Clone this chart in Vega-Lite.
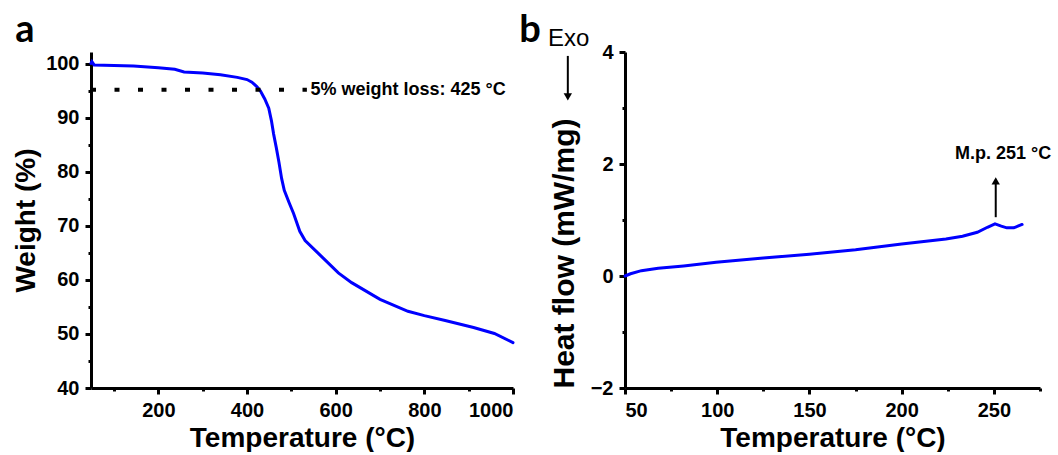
{
  "$schema": "https://vega.github.io/schema/vega-lite/v6.json",
  "background": "white",
  "padding": {"left": 12, "top": 11, "right": 0, "bottom": 0},
  "bounds": "flush",
  "spacing": 112,
  "config": {
    "view": {"stroke": null},
    "font": "Liberation Sans",
    "axis": {
      "grid": false,
      "domainColor": "black",
      "domainWidth": 3,
      "tickColor": "black",
      "tickWidth": 3,
      "tickSize": 6,
      "labelFont": "Liberation Sans",
      "labelFontWeight": "bold",
      "labelFontSize": 20,
      "labelColor": "black",
      "labelPadding": 6,
      "titleFont": "Liberation Sans",
      "titleFontWeight": "bold",
      "titleFontSize": 28,
      "titleColor": "black",
      "format": "d"
    }
  },
  "datasets": {
    "tga": [
      {"T": 48, "W": 100.1}, {"T": 50, "W": 100.4}, {"T": 55, "W": 99.8}, {"T": 100, "W": 99.7},
      {"T": 144, "W": 99.6}, {"T": 200, "W": 99.3}, {"T": 237, "W": 99.0}, {"T": 258, "W": 98.5},
      {"T": 300, "W": 98.3}, {"T": 340, "W": 98.0}, {"T": 378, "W": 97.5}, {"T": 400, "W": 97.1},
      {"T": 411, "W": 96.6}, {"T": 422, "W": 95.8}, {"T": 430, "W": 95.0}, {"T": 440, "W": 93.5},
      {"T": 449, "W": 91.8}, {"T": 455, "W": 89.5}, {"T": 460, "W": 87.0}, {"T": 466, "W": 84.5},
      {"T": 472, "W": 81.8}, {"T": 478, "W": 78.8}, {"T": 484, "W": 76.6}, {"T": 495, "W": 74.3},
      {"T": 505, "W": 72.3}, {"T": 519, "W": 69.0}, {"T": 531, "W": 67.3}, {"T": 566, "W": 64.5},
      {"T": 606, "W": 61.3}, {"T": 636, "W": 59.5}, {"T": 700, "W": 56.4}, {"T": 763, "W": 54.2},
      {"T": 800, "W": 53.4}, {"T": 847, "W": 52.5}, {"T": 911, "W": 51.2}, {"T": 958, "W": 50.1},
      {"T": 1000, "W": 48.4}
    ],
    "tgaLine": [{"T": 48, "W": 95.2}, {"T": 535, "W": 95.2}],
    "dsc": [
      {"T": 50, "HF": 0.0}, {"T": 53, "HF": 0.04}, {"T": 58.9, "HF": 0.095}, {"T": 68, "HF": 0.137},
      {"T": 81.8, "HF": 0.18}, {"T": 99.4, "HF": 0.245}, {"T": 125, "HF": 0.32}, {"T": 150, "HF": 0.39},
      {"T": 175, "HF": 0.47}, {"T": 200, "HF": 0.57}, {"T": 224, "HF": 0.66}, {"T": 233, "HF": 0.71},
      {"T": 241, "HF": 0.78}, {"T": 246.5, "HF": 0.87}, {"T": 250.6, "HF": 0.93}, {"T": 254, "HF": 0.89},
      {"T": 257, "HF": 0.86}, {"T": 260.8, "HF": 0.86}, {"T": 265.3, "HF": 0.92}
    ],
    "one": [{}]
  },
  "hconcat": [
    {
      "width": 422,
      "height": 336,
      "resolve": {"axis": {"x": "independent", "y": "independent"}},
      "layer": [
        {
          "data": {"name": "tga"},
          "mark": {"type": "line", "color": "#0000ff", "strokeWidth": 3, "strokeCap": "round"},
          "encoding": {
            "x": {"field": "T", "type": "quantitative",
                  "scale": {"domain": [48, 1000], "nice": false, "zero": false},
                  "axis": {"title": "Temperature (°C)", "values": [200, 400, 600, 800, 1000], "titlePadding": 4, "orient": "bottom"}},
            "y": {"field": "W", "type": "quantitative",
                  "scale": {"domain": [40, 102.2], "nice": false, "zero": false},
                  "axis": {"title": "Weight (%)", "values": [40, 50, 60, 70, 80, 90, 100], "titlePadding": 5, "orient": "left"}}
          }
        },
        {
          "data": {"name": "tgaLine"},
          "mark": {"type": "line", "color": "black", "strokeWidth": 4, "strokeDash": [5, 18.5], "strokeCap": "butt"},
          "encoding": {
            "x": {"field": "T", "type": "quantitative",
                  "axis": {"title": null, "values": [100, 300, 500, 700, 900], "labels": false, "domain": false, "tickSize": 3, "orient": "bottom"}},
            "y": {"field": "W", "type": "quantitative",
                  "axis": {"title": null, "values": [45, 55, 65, 75, 85, 95], "labels": false, "domain": false, "tickSize": 3, "orient": "left"}}
          }
        },
        {
          "data": {"name": "one"},
          "mark": {"type": "text", "align": "left", "baseline": "middle", "fontSize": 18, "fontWeight": "bold", "color": "black", "font": "Liberation Sans"},
          "encoding": {
            "x": {"datum": 543, "type": "quantitative", "axis": null},
            "y": {"datum": 95.2, "type": "quantitative", "axis": null},
            "text": {"value": "5% weight loss: 425 °C"}
          }
        },
        {
          "data": {"name": "one"},
          "mark": {"type": "text", "align": "left", "baseline": "alphabetic", "fontSize": 38, "fontWeight": "bold", "color": "black", "font": "Lato", "clip": false},
          "encoding": {
            "x": {"datum": -123, "type": "quantitative", "axis": null},
            "y": {"datum": 104.0, "type": "quantitative", "axis": null},
            "text": {"value": "a"}
          }
        }
      ]
    },
    {
      "width": 415,
      "height": 336,
      "resolve": {"axis": {"x": "independent", "y": "independent"}},
      "layer": [
        {
          "data": {"name": "dsc"},
          "mark": {"type": "line", "color": "#0000ff", "strokeWidth": 3, "strokeCap": "round"},
          "encoding": {
            "x": {"field": "T", "type": "quantitative",
                  "scale": {"domain": [50, 275], "nice": false, "zero": false},
                  "axis": {"title": "Temperature (°C)", "values": [50, 100, 150, 200, 250], "titlePadding": 4, "orient": "bottom"}},
            "y": {"field": "HF", "type": "quantitative",
                  "scale": {"domain": [-2, 4], "nice": false, "zero": false},
                  "axis": {"title": "Heat flow (mW/mg)", "values": [-2, 0, 2, 4], "titlePadding": 11, "titleFontSize": 30, "titleAnchor": "start", "orient": "left"}}
          }
        },
        {
          "data": {"name": "one"},
          "mark": {"type": "rule", "color": "black", "strokeWidth": 2, "clip": false},
          "encoding": {
            "x": {"datum": 19.0, "type": "quantitative",
                  "axis": {"title": null, "values": [75, 125, 175, 225, 275], "labels": false, "domain": false, "tickSize": 3, "orient": "bottom"}},
            "y": {"datum": 3.93, "type": "quantitative",
                  "axis": {"title": null, "values": [-1, 1, 3], "labels": false, "domain": false, "tickSize": 3, "orient": "left"}},
            "y2": {"datum": 3.2}
          }
        },
        {
          "data": {"name": "one"},
          "mark": {"type": "rule", "color": "black", "strokeWidth": 2, "clip": false},
          "encoding": {
            "x": {"datum": 251, "type": "quantitative", "axis": null},
            "y": {"datum": 1.05, "type": "quantitative", "axis": null},
            "y2": {"datum": 1.7}
          }
        },
        {
          "data": {"name": "one"},
          "mark": {"type": "point", "shape": "triangle-down", "filled": true, "color": "black", "size": 70, "opacity": 1, "clip": false},
          "encoding": {
            "x": {"datum": 19.0, "type": "quantitative", "axis": null},
            "y": {"datum": 3.2, "type": "quantitative", "axis": null}
          }
        },
        {
          "data": {"name": "one"},
          "mark": {"type": "point", "shape": "triangle-up", "filled": true, "color": "black", "size": 70, "opacity": 1, "clip": false},
          "encoding": {
            "x": {"datum": 251, "type": "quantitative", "axis": null},
            "y": {"datum": 1.7, "type": "quantitative", "axis": null}
          }
        },
        {
          "data": {"name": "one"},
          "mark": {"type": "text", "align": "center", "baseline": "middle", "fontSize": 24, "color": "black", "font": "Liberation Sans", "clip": false},
          "encoding": {
            "x": {"datum": 19.5, "type": "quantitative", "axis": null},
            "y": {"datum": 4.23, "type": "quantitative", "axis": null},
            "text": {"value": "Exo"}
          }
        },
        {
          "data": {"name": "one"},
          "mark": {"type": "text", "align": "center", "baseline": "middle", "fontSize": 18, "fontWeight": "bold", "color": "black", "font": "Liberation Sans", "clip": false},
          "encoding": {
            "x": {"datum": 255, "type": "quantitative", "axis": null},
            "y": {"datum": 2.18, "type": "quantitative", "axis": null},
            "text": {"value": "M.p. 251 °C"}
          }
        },
        {
          "data": {"name": "one"},
          "mark": {"type": "text", "align": "left", "baseline": "alphabetic", "fontSize": 38, "fontWeight": "bold", "color": "black", "font": "Lato", "clip": false},
          "encoding": {
            "x": {"datum": -7.4, "type": "quantitative", "axis": null},
            "y": {"datum": 4.18, "type": "quantitative", "axis": null},
            "text": {"value": "b"}
          }
        }
      ]
    }
  ]
}
